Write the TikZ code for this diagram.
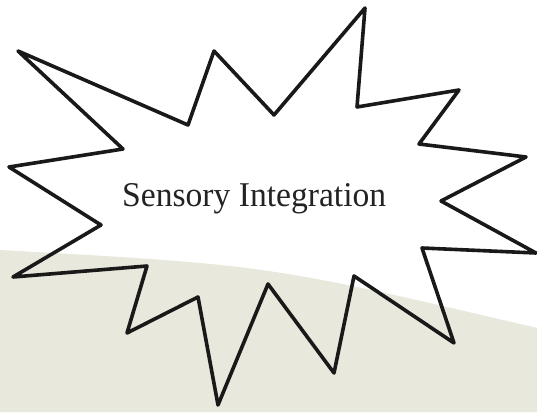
\documentclass[tikz,border=0pt]{standalone}
\usepackage{fontspec}
\setmainfont{Liberation Serif}
\definecolor{beige}{RGB}{232,232,220}
\definecolor{txtgray}{RGB}{35,35,35}
\tikzset{
  burst/.style={draw=black!90, line width=3.6pt, line join=round},
  bg/.style={fill=beige, draw=none},
  lbl/.style={text=txtgray, inner sep=0pt, anchor=base west}
}
\begin{document}
\begin{tikzpicture}[x=1pt,y=-1pt]
\useasboundingbox (0,0) rectangle (537,412);
\fill[white] (0,0) rectangle (537,412);
\path[bg] (0,250) .. controls (268.5,265) .. (537,328) -- (537,412) -- (0,412) -- cycle;
\draw[burst] (18,51) -- (188,125) -- (214,51) -- (274,115) -- (365,8) -- (357,107)
  -- (459,90) -- (419,144) -- (526,157) -- (441,201) -- (536,253) -- (422,248)
  -- (454,343) -- (354,276) -- (334,373) -- (268,284) -- (218,405) -- (198,297)
  -- (127,333) -- (147,266) -- (13,277) -- (101,225) -- (9,167) -- (123,149) -- cycle;
\node[lbl] (label) at (122,206) {\resizebox{264pt}{23pt}{Sensory Integration}};
\end{tikzpicture}
\end{document}
